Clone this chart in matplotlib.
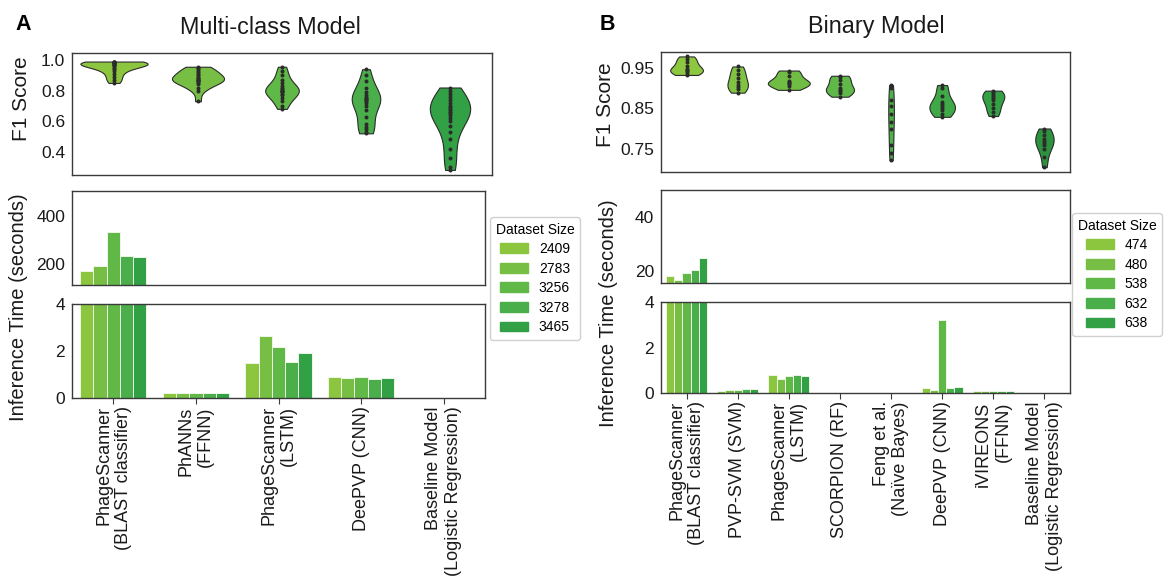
import numpy as np
import pandas as pd
import matplotlib
matplotlib.use("Agg")
import matplotlib.pyplot as plt
import seaborn as sns
from matplotlib.patches import Patch

# ---- data: multi-class model
multi_models = ["PhageScanner\n(BLAST classifier)", "PhANNs\n(FFNN)", "PhageScanner\n(LSTM)",
                "DeePVP (CNN)", "Baseline Model\n(Logistic Regression)"]
multi_sizes = ["2409", "2783", "3256", "3278", "3465"]
multi_f1 = [
    [0.99, 0.988, 0.985, 0.985, 0.982, 0.98, 0.98, 0.978, 0.975, 0.97, 0.965, 0.96, 0.95, 0.94, 0.93, 0.91, 0.89, 0.87, 0.85],
    [0.956, 0.95, 0.94, 0.93, 0.92, 0.91, 0.90, 0.89, 0.88, 0.875, 0.87, 0.87, 0.865, 0.86, 0.85, 0.84, 0.82, 0.80, 0.73],
    [0.956, 0.93, 0.90, 0.87, 0.85, 0.83, 0.82, 0.81, 0.80, 0.80, 0.795, 0.79, 0.78, 0.77, 0.75, 0.73, 0.70, 0.68],
    [0.94, 0.90, 0.86, 0.82, 0.79, 0.77, 0.76, 0.75, 0.745, 0.74, 0.73, 0.72, 0.70, 0.67, 0.63, 0.58, 0.56, 0.55, 0.53, 0.52],
    [0.82, 0.80, 0.78, 0.76, 0.74, 0.72, 0.70, 0.69, 0.68, 0.67, 0.66, 0.65, 0.64, 0.62, 0.60, 0.57, 0.53, 0.48, 0.42, 0.36, 0.30, 0.28],
]
# inference time (seconds), one row per dataset size
multi_time = [
    [172, 0.20, 1.51, 0.90, 0.01],
    [192, 0.22, 2.63, 0.85, 0.01],
    [335, 0.22, 2.19, 0.90, 0.01],
    [232, 0.22, 1.55, 0.80, 0.01],
    [229, 0.23, 1.90, 0.84, 0.01],
]

# ---- data: binary model
bin_models = ["PhageScanner\n(BLAST classifier)", "PVP-SVM (SVM)", "PhageScanner\n(LSTM)", "SCORPION (RF)",
              "Feng et al.\n(Naïve Bayes)", "DeePVP (CNN)", "iVIREONS\n(FFNN)", "Baseline Model\n(Logistic Regression)"]
bin_sizes = ["474", "480", "538", "632", "638"]
bin_f1 = [
    [0.979, 0.972, 0.965, 0.955, 0.948, 0.945, 0.942, 0.938, 0.933],
    [0.954, 0.945, 0.935, 0.925, 0.915, 0.908, 0.903, 0.898, 0.889],
    [0.944, 0.94, 0.93, 0.918, 0.915, 0.912, 0.91, 0.905, 0.896],
    [0.931, 0.928, 0.92, 0.91, 0.90, 0.896, 0.893, 0.888, 0.879],
    [0.908, 0.90, 0.87, 0.855, 0.835, 0.815, 0.80, 0.76, 0.74, 0.721],
    [0.908, 0.90, 0.88, 0.865, 0.86, 0.855, 0.85, 0.845, 0.835, 0.829],
    [0.894, 0.89, 0.885, 0.88, 0.875, 0.87, 0.86, 0.85, 0.84, 0.831],
    [0.80, 0.795, 0.785, 0.775, 0.77, 0.765, 0.76, 0.75, 0.73, 0.704],
]
bin_time = [
    [18.4, 0.10, 0.78, 0.01, 0.01, 0.20, 0.07, 0.01],
    [17.0, 0.12, 0.62, 0.01, 0.01, 0.15, 0.10, 0.01],
    [19.4, 0.13, 0.73, 0.01, 0.01, 3.23, 0.07, 0.01],
    [20.6, 0.17, 0.79, 0.01, 0.01, 0.22, 0.07, 0.01],
    [24.9, 0.17, 0.74, 0.01, 0.01, 0.25, 0.07, 0.01],
]

# ---- style
size_colors = ["#8cc63f", "#76bf44", "#60b946", "#4aae4a", "#32a045"]
multi_violin_colors = ["#8cc63f", "#76bf44", "#60b946", "#4aae4a", "#32a045"]
bin_violin_colors = ["#8dc63f", "#80c241", "#70bd44", "#5fb848", "#4fb14a", "#40a947", "#34a044", "#2c923d"]
multi_violin_widths = [0.8, 0.62, 0.4, 0.34, 0.48]
bin_violin_widths = [0.64, 0.4, 0.82, 0.55, 0.11, 0.5, 0.43, 0.36]

plt.rcParams['font.family'] = ['Liberation Sans', 'DejaVu Sans']

W, H = 1170, 587
SPINE = "#3a3a3a"
INK = "#1a1a1a"


def rect(x0, y0, x1, y1):
    return [x0 / W, 1 - y1 / H, (x1 - x0) / W, (y1 - y0) / H]


def style(ax):
    for s in ax.spines.values():
        s.set_color(SPINE)
        s.set_linewidth(1.0)
    ax.tick_params(axis="y", length=0, labelsize=12.5, pad=5, colors=INK)


def draw_violins(ax, models, scores, colors, widths, ylim, yticks, fmt, label_pos):
    for i, model in enumerate(models):
        df = pd.DataFrame({"model": [model] * len(scores[i]), "f1": scores[i]})
        sns.violinplot(data=df, x="model", y="f1", order=models, color=colors[i], saturation=1,
                       cut=0, inner="point", density_norm="width", width=widths[i], linewidth=0.8,
                       linecolor="#2b2b2b", inner_kws={"s": 3.5, "color": "#2b2b2b"}, ax=ax)
    ax.set_xlim(-0.5, len(models) - 0.5)
    ax.set_ylim(*ylim)
    ax.set_yticks(yticks)
    ax.set_yticklabels([fmt.format(v) for v in yticks])
    ax.set_xticks([])
    ax.set_xlabel("")
    ax.set_ylabel("F1 Score", fontsize=15, color=INK)
    ax.yaxis.set_label_coords(*label_pos)
    style(ax)


def draw_bars(ax_top, ax_bot, models, times, top_ylim, top_ticks):
    xs = np.arange(len(models))
    w = 0.8 / len(times)
    for j, vals in enumerate(times):
        off = (j - (len(times) - 1) / 2) * w
        for ax in (ax_top, ax_bot):
            ax.bar(xs + off, vals, width=w, color=size_colors[j], edgecolor="#eef6e6", linewidth=0.7)
    for ax in (ax_top, ax_bot):
        ax.set_xlim(-0.5, len(models) - 0.5)
        style(ax)
    ax_top.set_ylim(*top_ylim)
    ax_top.set_yticks(top_ticks)
    ax_top.set_xticks([])
    ax_bot.set_ylim(0, 4)
    ax_bot.set_yticks([0, 2, 4])
    ax_bot.set_xticks(xs)
    ax_bot.set_xticklabels(models, rotation=90, ha="center", va="top", ma="right", fontsize=13, color=INK)
    ax_bot.tick_params(axis="x", length=4, width=0.8, color=SPINE, pad=2)


fig = plt.figure(figsize=(W / 100, H / 100), dpi=100)

# ---- panel A
ax_v1 = fig.add_axes(rect(72, 53, 492, 175))
ax_t1 = fig.add_axes(rect(72, 191, 485, 285))
ax_b1 = fig.add_axes(rect(72, 304, 485, 398))
draw_violins(ax_v1, multi_models, multi_f1, multi_violin_colors, multi_violin_widths,
             (0.247, 1.046), [0.4, 0.6, 0.8, 1.0], "{:.1f}", (-0.098, 0.627))
draw_bars(ax_t1, ax_b1, multi_models, multi_time, (112, 504), [200, 400])

# ---- panel B
ax_v2 = fig.add_axes(rect(661, 52, 1070, 172))
ax_t2 = fig.add_axes(rect(661, 190, 1070, 283))
ax_b2 = fig.add_axes(rect(661, 302, 1070, 393))
draw_violins(ax_v2, bin_models, bin_f1, bin_violin_colors, bin_violin_widths,
             (0.692, 0.99), [0.75, 0.85, 0.95], "{:.2f}", (-0.112, 0.5625))
draw_bars(ax_t2, ax_b2, bin_models, bin_time, (15.8, 49.7), [20, 40])

fig.text(19 / W, 1 - 307 / H, "Inference Time (seconds)", rotation=90, fontsize=14.5, color=INK,
         ha="center", va="center")
fig.text(609 / W, 1 - 313 / H, "Inference Time (seconds)", rotation=90, fontsize=14.5, color=INK,
         ha="center", va="center")

# legends
for sizes, anchor in ((multi_sizes, (490, 217)), (bin_sizes, (1072, 213))):
    handles = [Patch(facecolor=c, edgecolor=c) for c in size_colors]
    fig.legend(handles, sizes, title="Dataset Size", loc="upper left",
               bbox_to_anchor=(anchor[0] / W, 1 - anchor[1] / H), fontsize=10, title_fontsize=10,
               frameon=True, edgecolor="#d0d0d0", framealpha=1, handlelength=2.0, handletextpad=0.8,
               labelspacing=0.4, borderaxespad=0)

# titles and panel letters
fig.text(270 / W, 1 - 27 / H, "Multi-class Model", fontsize=16.8, color=INK, ha="center", va="center")
fig.text(876 / W, 1 - 27 / H, "Binary Model", fontsize=16.8, color=INK, ha="center", va="center")
fig.text(23 / W, 1 - 25 / H, "A", fontsize=15.5, fontweight="bold", ha="center", va="center")
fig.text(607 / W, 1 - 25 / H, "B", fontsize=15.5, fontweight="bold", ha="center", va="center")

fig.savefig("out.png", dpi=100)
